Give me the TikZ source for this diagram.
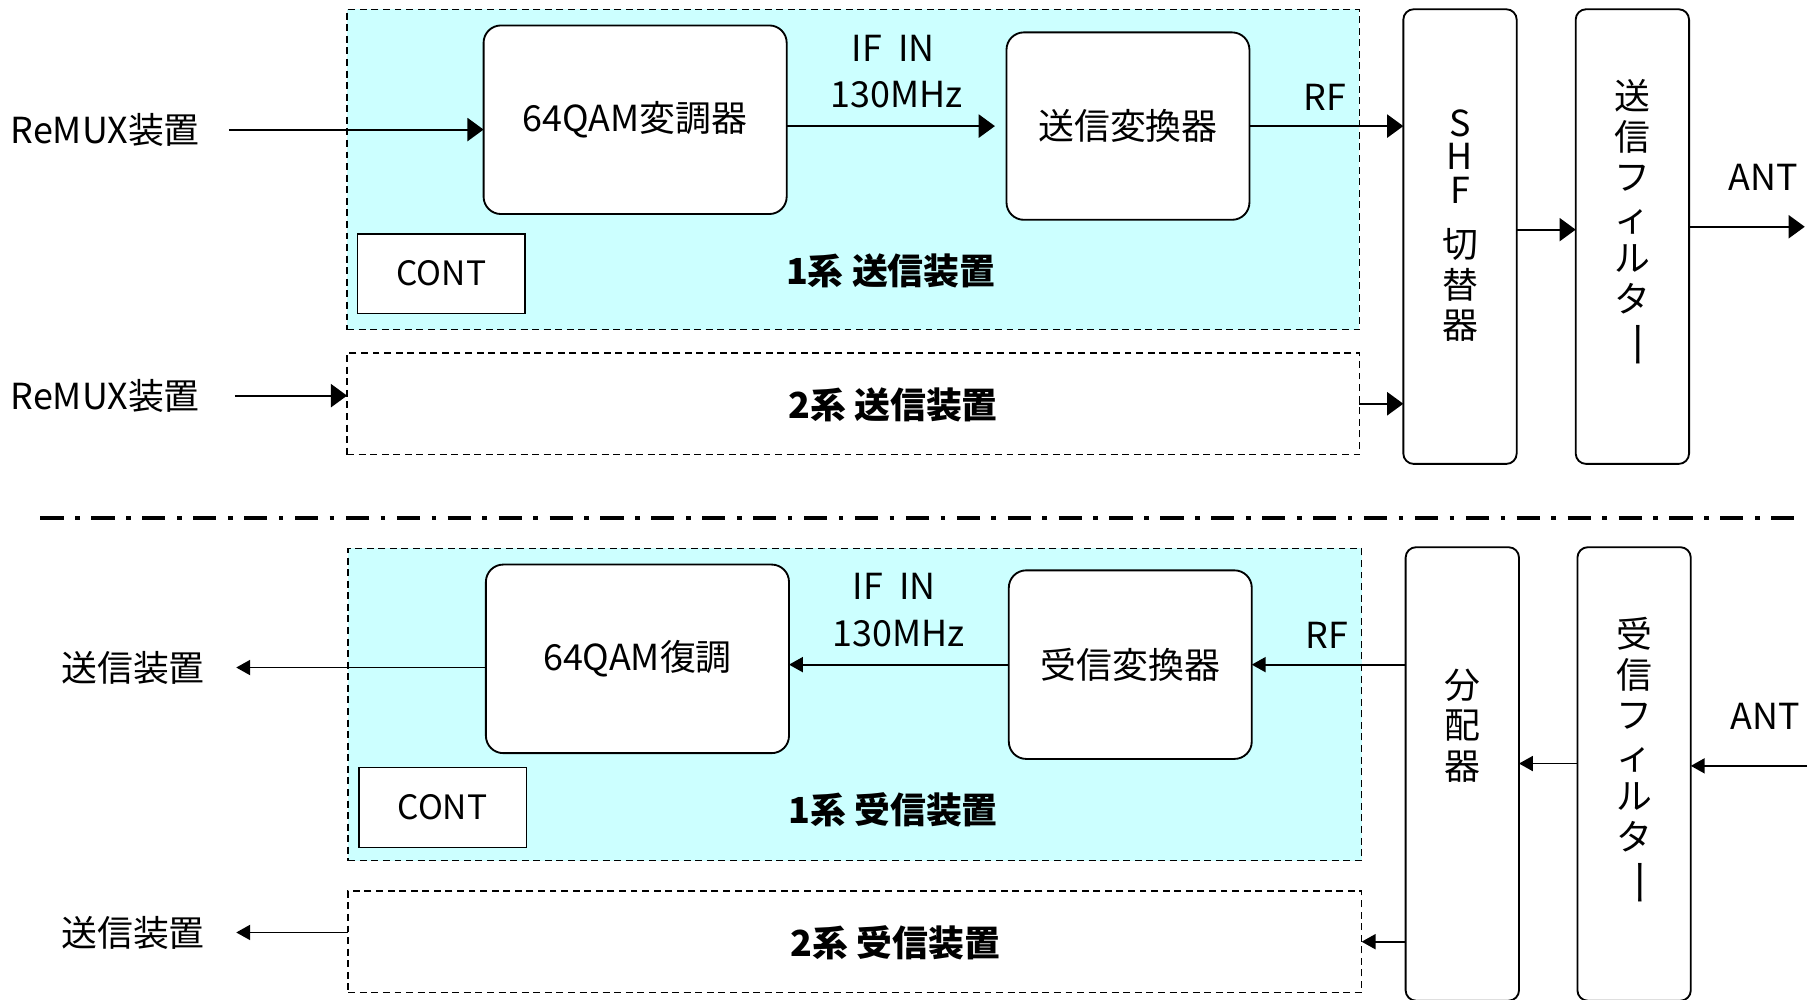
\documentclass[tikz,border=0pt]{standalone}
\usepackage{fontspec}
\setmainfont{Noto Sans CJK JP}
\usetikzlibrary{arrows.meta}
\definecolor{grpcyan}{RGB}{204,255,255}
\newcommand{\vbar}{\rotatebox[origin=c]{-90}{\scalebox{1.35}[1]{ー}}}

\begin{document}
\begin{tikzpicture}[x=1pt, y=-1pt,
  txt/.style={font=\fontsize{31}{35}\selectfont, inner sep=0pt},
  ttl/.style={font=\fontsize{31}{35}\selectfont\bfseries, inner sep=0pt},
  vtxt/.style={font=\fontsize{31}{35}\selectfont, inner sep=0pt, align=center},
  grp/.style={draw, dash pattern=on 6pt off 4pt, line width=1.3pt, inner sep=0pt, outer sep=0pt},
  blk/.style={draw, line width=1.6pt, rounded corners=15pt, fill=white, inner sep=0pt, outer sep=0pt},
  cont/.style={draw, line width=1.5pt, fill=white, minimum width=145pt, minimum height=69pt, inner sep=0pt, outer sep=0pt, font=\fontsize{29}{35}\selectfont},
  tall/.style={draw, line width=1.6pt, rounded corners=9pt, fill=white, minimum width=98pt, minimum height=393pt, inner sep=0pt, outer sep=0pt},
  arr/.style={-{Triangle[length=14pt,width=20pt]}, line width=1.8pt},
  arrs/.style={-{Triangle[length=12pt,width=13pt]}, line width=1.5pt}]
  \useasboundingbox (0,0) rectangle (1568,864);

  \node[grp, fill=grpcyan, minimum width=875pt, minimum height=277pt] (sys1tx) at (737.5,146.5) {};
  \node[grp, minimum width=875pt, minimum height=88pt] (sys2tx) at (737.5,349) {};
  \node[blk, minimum width=262pt, minimum height=163pt, txt] (mod) at (549,103.5) {64QAM変調器};
  \node[blk, minimum width=210pt, minimum height=162pt, txt] (txconv) at (975,109) {送信変換器};
  \node[cont] (cont1) at (381.5,236.5) {CONT};
  \node[ttl] (title1) at (770,234) {1系 送信装置};
  \node[ttl] (title2) at (772,350) {2系 送信装置};
  \node[tall] (shf) at (1262,204.5) {};
  \node[tall] (txfil) at (1411,204.5) {};
  \node[vtxt] (shftext) at (1262,195) {S\\[-6pt]H\\[-6pt]F\\[12pt]切\\替\\器};
  \node[vtxt] (txfiltext) at (1411,194) {送\\信\\フ\\ィ\\ル\\タ\\\vbar};

  \node[txt] (remux1) at (91,112) {ReMUX装置};
  \node[txt] (remux2) at (91,342) {ReMUX装置};
  \node[txt] (ifA) at (772,42) {IF\ \ IN};
  \node[txt] (mhzA) at (775,82) {130MHz};
  \node[txt] (rfA) at (1145,84) {RF};
  \node[txt] (antA) at (1524,153) {ANT};
  \coordinate (antout) at (1560,196);

  \draw[arr] ([xshift=25pt]remux1.east) -- (mod.west |- remux1);
  \draw[arr, shorten >=10pt] (mod.east |- txconv) -- (txconv.west);
  \draw[arr] (txconv.east) -- (txconv.east -| shf.west);
  \draw[arr] ([xshift=30pt]remux2.east) -- (remux2.east -| sys2tx.west);
  \draw[arr] (sys2tx.east) -- (sys2tx.east -| shf.west);
  \draw[arr] ([yshift=6pt]shf.east) -- ([yshift=6pt]txfil.west);
  \draw[arr] ([yshift=8.5pt]txfil.east) -- (antout);

  \coordinate (sepL) at (35,448);
  \coordinate (sepR) at (1560,448);
  \draw[line width=3.5pt, dash pattern=on 20pt off 10pt on 4pt off 10pt] (sepL) -- (sepR);

  \node[grp, fill=grpcyan, minimum width=876pt, minimum height=270pt] (sys1rx) at (739,609) {};
  \node[grp, minimum width=876pt, minimum height=88pt] (sys2rx) at (739,814) {};
  \node[blk, minimum width=262pt, minimum height=163pt, txt] (demod) at (551,569.5) {64QAM復調};
  \node[blk, minimum width=210pt, minimum height=163pt, txt] (rxconv) at (977,574.5) {受信変換器};
  \node[cont] (cont2) at (382.5,698) {CONT};
  \node[ttl] (title3) at (772,700) {1系 受信装置};
  \node[ttl] (title4) at (774,815) {2系 受信装置};
  \node[tall, minimum height=392pt] (div) at (1264,669) {};
  \node[tall, minimum height=392pt] (rxfil) at (1412.5,669) {};
  \node[vtxt] (divtext) at (1264,627) {分\\配\\器};
  \node[vtxt] (rxfiltext) at (1412.5,659) {受\\信\\フ\\ィ\\ル\\タ\\\vbar};

  \node[txt] (out1) at (115,577) {送信装置};
  \node[txt] (out2) at (115,806) {送信装置};
  \node[txt] (ifB) at (773,507) {IF\ \ IN};
  \node[txt] (mhzB) at (777,548) {130MHz};
  \node[txt] (rfB) at (1147,549) {RF};
  \node[txt] (antB) at (1526,619) {ANT};
  \coordinate (antin) at (1562,662);

  \draw[arrs] (demod.west |- out1) -- ([xshift=27pt]out1.east);
  \draw[arrs] (rxconv.west) -- (rxconv.west -| demod.east);
  \draw[arrs] (div.west |- rxconv) -- (rxconv.east);
  \draw[arrs] (div.west |- sys2rx) -- (sys2rx.east);
  \draw[arrs] (sys2rx.west |- out2) -- ([xshift=27pt]out2.east);
  \draw[arrs] ([yshift=9pt]rxfil.west) -- ([yshift=9pt]div.east);
  \draw[arrs] (antin) -- (antin -| rxfil.east);
\end{tikzpicture}
\end{document}
